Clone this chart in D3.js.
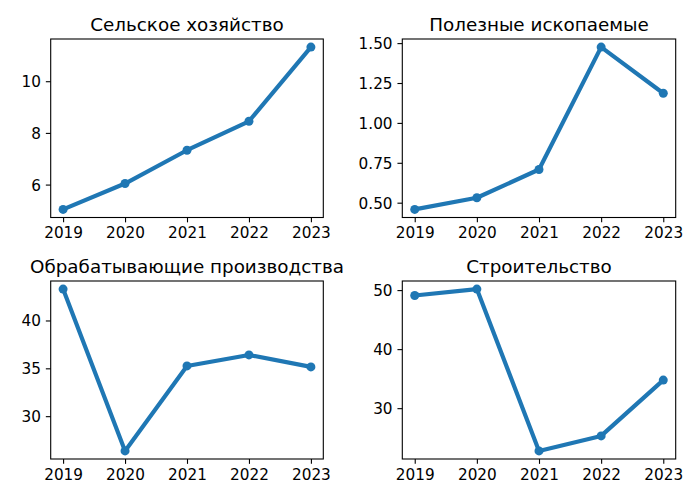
<!DOCTYPE html>
<html>
<head>
<meta charset="utf-8">
<script src="https://cdn.jsdelivr.net/npm/d3@7"></script>
<style>
  body { margin: 0; background: #fff; }
  svg { display: block; }
</style>
</head>
<body>
<svg id="chart" width="700" height="500"></svg>
<script>
const years = [2019, 2020, 2021, 2022, 2023];
const titles = ["Сельское хозяйство", "Полезные ископаемые", "Обрабатывающие производства", "Строительство"];
const agriculture = [5.04, 6.04, 7.33, 8.45, 11.32];
const mining = [0.458, 0.531, 0.708, 1.475, 1.186];
const manufacturing = [43.28, 26.37, 35.25, 36.4, 35.15];
const construction = [49.08, 50.17, 22.76, 25.3, 34.75];
const yTicks = [[6, 8, 10], [0.5, 0.75, 1.0, 1.25, 1.5], [30, 35, 40], [30, 40, 50]];
const yFormats = ["d", ".2f", "d", "d"];

const seriesList = [agriculture, mining, manufacturing, construction];
const boxes = [
  {x0: 50.7, x1: 323.3, y0: 39, y1: 217.5},
  {x0: 402.3, x1: 675.7, y0: 39, y1: 217.5},
  {x0: 50.7, x1: 323.3, y0: 281, y1: 459},
  {x0: 402.3, x1: 675.7, y0: 281, y1: 459}
];
const color = "#1f77b4";
const font = "DejaVu Sans, sans-serif";
const tickLen = 4.86, tickPad = 4.86;
const tickFont = 15.28, titleFont = 18.33;

const svg = d3.select("#chart");

seriesList.forEach((vals, i) => {
  const b = boxes[i];
  const xmin = d3.min(years), xmax = d3.max(years);
  const xm = (xmax - xmin) * 0.05;
  const x = d3.scaleLinear().domain([xmin - xm, xmax + xm]).range([b.x0, b.x1]);
  const ymin = d3.min(vals), ymax = d3.max(vals);
  const ym = (ymax - ymin) * 0.05;
  const y = d3.scaleLinear().domain([ymin - ym, ymax + ym]).range([b.y1, b.y0]);

  const g = svg.append("g");

  // x axis
  const xa = g.append("g").attr("transform", `translate(0,${b.y1})`)
    .call(d3.axisBottom(x).tickValues(years).tickFormat(d3.format("d")).tickSize(tickLen).tickPadding(tickPad));
  xa.select(".domain").remove();
  xa.selectAll("line").attr("stroke", "#000").attr("stroke-width", 1.1);
  xa.selectAll("text").attr("font-family", font).attr("font-size", tickFont).attr("fill", "#000").attr("dy", "0.72em");

  // y axis
  const ya = g.append("g").attr("transform", `translate(${b.x0},0)`)
    .call(d3.axisLeft(y).tickValues(yTicks[i]).tickFormat(d3.format(yFormats[i])).tickSize(tickLen).tickPadding(tickPad));
  ya.select(".domain").remove();
  ya.selectAll("line").attr("stroke", "#000").attr("stroke-width", 1.1);
  ya.selectAll("text").attr("font-family", font).attr("font-size", tickFont).attr("fill", "#000").attr("dy", "0.36em");

  // line
  const line = d3.line().x((d, j) => x(years[j])).y(d => y(d));
  g.append("path").datum(vals).attr("d", line)
    .attr("fill", "none").attr("stroke", color).attr("stroke-width", 4.17)
    .attr("stroke-linejoin", "round").attr("stroke-linecap", "butt");
  g.selectAll("circle.pt").data(vals).enter().append("circle")
    .attr("class", "pt")
    .attr("cx", (d, j) => x(years[j])).attr("cy", d => y(d)).attr("r", 4.5)
    .attr("fill", color);

  // frame
  g.append("rect").attr("x", b.x0).attr("y", b.y0)
    .attr("width", b.x1 - b.x0).attr("height", b.y1 - b.y0)
    .attr("fill", "none").attr("stroke", "#000").attr("stroke-width", 1.1);

  // title
  g.append("text").attr("x", (b.x0 + b.x1) / 2).attr("y", b.y0 - 8.3)
    .attr("text-anchor", "middle").attr("font-family", font).attr("font-size", titleFont)
    .attr("fill", "#000").text(titles[i]);
});
</script>
</body>
</html>
